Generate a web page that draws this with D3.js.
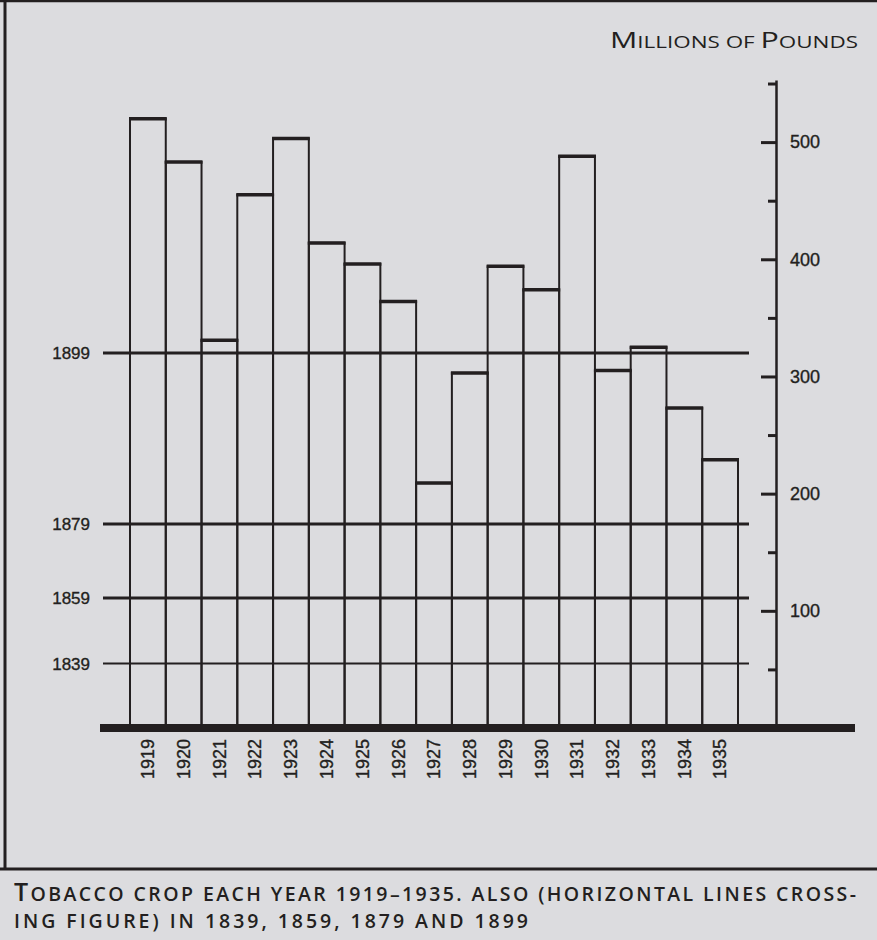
<!DOCTYPE html>
<html>
<head>
<meta charset="utf-8">
<script src="https://cdn.jsdelivr.net/npm/d3@7.9.0/dist/d3.min.js"></script>
<style>
  html, body { margin: 0; padding: 0; background: #dcdcdf; }
  svg { display: block; }
  text { fill: #231f20; }
  .num { font-family: 'Liberation Sans', Arial, sans-serif; stroke: #231f20; stroke-width: 0.35; }
</style>
</head>
<body>
<svg id="chart" width="877" height="940"></svg>
<script>
// tobacco crop, millions of pounds
const years = ['1919', '1920', '1921', '1922', '1923', '1924', '1925', '1926', '1927',
  '1928', '1929', '1930', '1931', '1932', '1933', '1934', '1935'];
const crop = [520, 483, 331, 455, 503, 414, 396, 364, 209, 303, 394, 374, 488, 305, 325, 273, 229];

// older years shown as horizontal lines
const pastYears = ['1839', '1859', '1879', '1899'];
const pastCrop = [55, 111, 174, 320];

const axisTicks = [50, 100, 150, 200, 250, 300, 350, 400, 450, 500, 550];

const ink = '#231f20';
const svg = d3.select('#chart');

// scales
const y = d3.scaleLinear().domain([0, 553]).range([728, 80]);
const x = d3.scaleBand().domain(years).range([130, 738]).padding(0);

// frame
svg.append('line').attr('x1', 0).attr('x2', 877).attr('y1', 1).attr('y2', 1)
  .attr('stroke', ink).attr('stroke-width', 2.5);
svg.append('line').attr('x1', 5).attr('x2', 5).attr('y1', 0).attr('y2', 870)
  .attr('stroke', ink).attr('stroke-width', 3);
svg.append('line').attr('x1', 0).attr('x2', 877).attr('y1', 869).attr('y2', 869)
  .attr('stroke', ink).attr('stroke-width', 3);

// bars (outline only)
const bars = svg.append('g');
years.forEach((yr, i) => {
  bars.append('rect')
    .attr('x', x(yr))
    .attr('y', y(crop[i]))
    .attr('width', x.bandwidth())
    .attr('height', y(0) - y(crop[i]))
    .attr('fill', 'none')
    .attr('stroke', ink)
    .attr('stroke-width', 2);
  bars.append('line')
    .attr('x1', x(yr) - 1).attr('x2', x(yr) + x.bandwidth() + 1)
    .attr('y1', y(crop[i])).attr('y2', y(crop[i]))
    .attr('stroke', ink)
    .attr('stroke-width', 3.5);
});

// horizontal lines for past years
const past = svg.append('g');
pastYears.forEach((yr, i) => {
  past.append('line')
    .attr('x1', 103).attr('x2', 749)
    .attr('y1', y(pastCrop[i])).attr('y2', y(pastCrop[i]))
    .attr('stroke', ink)
    .attr('stroke-width', i === 0 ? 2 : 3);
  past.append('text')
    .attr('class', 'num')
    .attr('x', 90)
    .attr('y', y(pastCrop[i]))
    .attr('dy', '0.35em')
    .attr('text-anchor', 'end')
    .attr('font-size', 17)
    .text(yr);
});

// right axis, ticks pointing left and labels to the right
const axis = d3.axisRight(y)
  .tickValues(axisTicks)
  .tickSizeInner(-15)
  .tickSizeOuter(0)
  .tickPadding(14)
  .tickFormat((d) => (d % 100 === 0 ? d : ''));

const axisG = svg.append('g')
  .attr('transform', 'translate(776,0)')
  .call(axis);
axisG.select('.domain').attr('stroke', ink).attr('stroke-width', 2.5);
axisG.selectAll('.tick line').attr('stroke', ink).attr('stroke-width', 3)
  .filter((d) => d % 100 !== 0).attr('x2', -8);
axisG.selectAll('.tick text')
  .attr('class', 'num')
  .attr('font-size', 18)
  .attr('font-family', null)
  .attr('fill', ink);

// baseline
svg.append('line').attr('x1', 100).attr('x2', 855).attr('y1', y(0)).attr('y2', y(0))
  .attr('stroke', ink).attr('stroke-width', 8);

// year labels, rotated
svg.append('g').selectAll('text')
  .data(years)
  .join('text')
  .attr('class', 'num')
  .attr('transform', (d) => `translate(${x(d) + x.bandwidth() / 2},739) rotate(-90)`)
  .attr('text-anchor', 'end')
  .attr('dy', '0.35em')
  .attr('font-size', 18)
  .text((d) => d);

// small-caps text built from tspans: [text, big?]
function smallCaps(sel, parts, big, small) {
  parts.forEach(([t, isBig]) => {
    sel.append('tspan')
      .attr('font-size', isBig ? big : small)
      .text(t);
  });
}

// unit title
const title = svg.append('text')
  .attr('x', 610).attr('y', 48)
  .attr('font-family', 'Open Sans, sans-serif')
  .attr('font-weight', 500)
  .attr('textLength', 248)
  .attr('lengthAdjust', 'spacingAndGlyphs');
smallCaps(title, [['M', true], ['ILLIONS OF ', false], ['P', true], ['OUNDS', false]], 21, 15.5);

// caption
const cap1 = svg.append('text')
  .attr('x', 14).attr('y', 901)
  .attr('font-family', 'Open Sans, sans-serif')
  .attr('font-weight', 600)
  .attr('textLength', 842)
  .attr('lengthAdjust', 'spacing');
smallCaps(cap1, [['T', true], ['OBACCO CROP EACH YEAR 1919–1935. ALSO (HORIZONTAL LINES CROSS-', false]], 25, 19.5);

const cap2 = svg.append('text')
  .attr('x', 14).attr('y', 928)
  .attr('font-family', 'Open Sans, sans-serif')
  .attr('font-weight', 600)
  .attr('textLength', 514)
  .attr('lengthAdjust', 'spacing');
smallCaps(cap2, [['ING FIGURE) IN 1839, 1859, 1879 AND 1899', false]], 25, 19.5);
</script>
</body>
</html>
